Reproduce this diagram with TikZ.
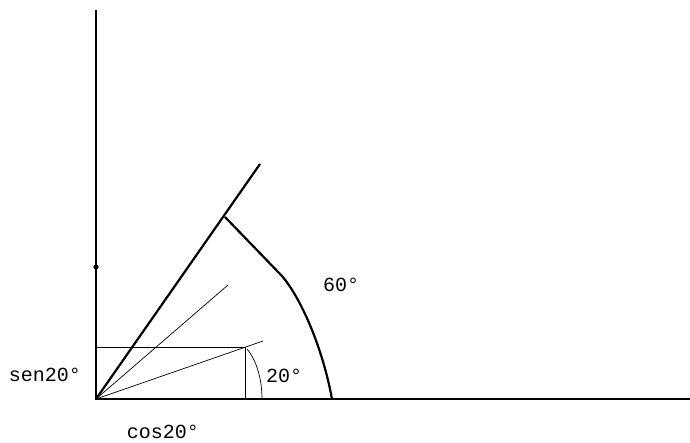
\documentclass[tikz,border=0pt]{standalone}
\usepackage{fontspec}
\newfontfamily\labelfont{Liberation Mono}
\usetikzlibrary{positioning}

\begin{document}
\begin{tikzpicture}[
  x=1pt, y=-1pt,
  axis/.style={line width=1.2pt},
  thinline/.style={line width=0.7pt},
  thickline/.style={line width=2.2pt, line join=round},
  lbl/.style={font=\labelfont\fontsize{20}{20}\selectfont, inner sep=0pt},
]
  \useasboundingbox (0,0) rectangle (690,442);

  % Axes
  \coordinate (o) at (96,399);
  \coordinate (ytop) at (96,10);
  \coordinate (xend) at (690,399);
  \coordinate (ydot) at (96,267);
  \draw[axis] (ytop) -- (o) -- (xend);
  \fill (ydot) circle (2.6);

  % Rays
  \coordinate (ray60) at (260,164);
  \coordinate (arc60) at (225,217);
  \coordinate (ray40) at (228,285);
  \coordinate (ray20) at (263,341);
  \coordinate (p20) at (245,347);
  \draw[thickline] (o) -- (ray60);
  \draw[thinline] (o) -- (ray40);
  \draw[thinline] (o) -- (ray20);

  % Projections of the point
  \coordinate (sen) at (96,347);
  \coordinate (cos) at (245,399);
  \draw[thinline] (sen) -- (p20) -- (cos);

  % Arcs
  \coordinate (arcmid) at (282,276);
  \coordinate (arcend) at (332,399);
  \draw[thickline] (arc60) -- (arcmid) .. controls (300,297) and (322,345) .. (arcend);
  \coordinate (small20) at (247,349);
  \coordinate (small0) at (262,399);
  \draw[thinline] (small20) .. controls (257,361) and (262,380) .. (small0);

  % Labels
  \node[lbl] (lbl60) at (341,285) {60°};
  \node[lbl] (lbl20) at (284,376) {20°};
  \node[lbl] (lblsen) at (45,375) {sen20°};
  \node[lbl] (lblcos) at (163,432) {cos20°};
\end{tikzpicture}
\end{document}
